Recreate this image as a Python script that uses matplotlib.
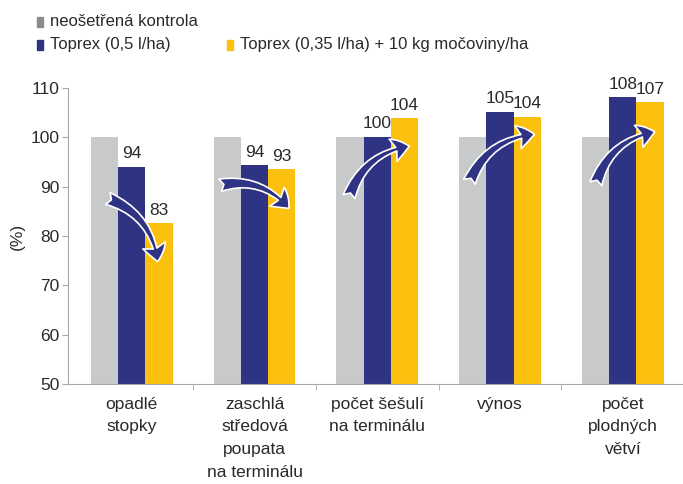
import matplotlib.pyplot as plt
import numpy as np
from matplotlib.patches import Rectangle, FancyArrowPatch

plt.rcParams['font.family'] = ['Liberation Sans', 'DejaVu Sans']

categories = ['opadlé\nstopky', 'zaschlá\nstředová\npoupata\nna terminálu',
              'počet šešulí\nna terminálu', 'výnos', 'počet\nplodných\nvětví']
series_names = ['neošetřená kontrola', 'Toprex (0,5 l/ha)',
                'Toprex (0,35 l/ha) + 10 kg močoviny/ha']
control = [100, 100, 100, 100, 100]
toprex = [94, 94.3, 100.1, 105.2, 108.1]
toprex_urea = [82.6, 93.5, 103.9, 104.2, 107.1]
toprex_labels = ['94', '94', '100', '105', '108']
urea_labels = ['83', '93', '104', '104', '107']

colors = ['#c8c9cb', '#2e3383', '#fcc10e']
text_color = '#2a2a2a'
spine_color = '#a8a8a8'

fig = plt.figure(figsize=(6.83, 4.84), dpi=100)
ax = fig.add_axes([0.0996, 0.2066, 0.9004, 0.6116])

x = np.arange(len(categories))
w = 0.222
ax.bar(x - w, control, w, color=colors[0])
ax.bar(x, toprex, w, color=colors[1])
ax.bar(x + w, toprex_urea, w, color=colors[2])

for i in range(len(categories)):
    ax.annotate(toprex_labels[i], (x[i], toprex[i]), xytext=(0, 4),
                textcoords='offset points', ha='center', va='bottom',
                fontsize=12.5, color=text_color)
    ax.annotate(urea_labels[i], (x[i] + w, toprex_urea[i]), xytext=(0, 4),
                textcoords='offset points', ha='center', va='bottom',
                fontsize=12.5, color=text_color)

# curved arrows (start, end) in data coords
arrows = [((-0.195, 87.6), (0.21, 74.8)),
          ((0.72, 90.3), (1.28, 85.6)),
          ((1.77, 88.0), (2.26, 98.2)),
          ((2.75, 91.0), (3.28, 100.6)),
          ((3.78, 90.6), (4.26, 101.1))]
for start, end in arrows:
    arr = FancyArrowPatch(start, end, connectionstyle='arc3,rad=-0.3',
                          arrowstyle='fancy,head_length=0.6,head_width=0.85,tail_width=0.45',
                          mutation_scale=20, facecolor=colors[1],
                          edgecolor='white', linewidth=1.2, zorder=5,
                          shrinkA=0, shrinkB=0)
    ax.add_patch(arr)

ax.set_xlim(-0.52, 4.49)
ax.set_ylim(50, 110)
ax.set_yticks(np.arange(50, 111, 10))
ax.set_xticks(x)
ax.set_xticklabels(categories, fontsize=12.5, color=text_color, linespacing=1.65,
                   va='top')
ax.set_xticks(x[:-1] + 0.5, minor=True)
ax.tick_params(axis='x', which='major', length=0, pad=9)
ax.tick_params(axis='x', which='minor', length=4, direction='out', color=spine_color)
ax.tick_params(axis='y', length=4, direction='out', color=spine_color,
               labelsize=12.5, labelcolor=text_color, pad=2)
for s in ['top', 'right']:
    ax.spines[s].set_visible(False)
for s in ['left', 'bottom']:
    ax.spines[s].set_color(spine_color)
ax.set_ylabel('(%)', fontsize=12.5, color=text_color)
ax.yaxis.set_label_coords(-0.07, 0.5)

# legend drawn by hand
fig.patches.append(Rectangle((37 / 683, 1 - 27 / 484), 6 / 683, 10 / 484,
                             transform=fig.transFigure, color='#8c8c8c'))
fig.text(50 / 683, 1 - 22 / 484, series_names[0], fontsize=12,
         color=text_color, va='center')
fig.patches.append(Rectangle((37 / 683, 1 - 50 / 484), 6 / 683, 10 / 484,
                             transform=fig.transFigure, color=colors[1]))
fig.text(50 / 683, 1 - 45 / 484, series_names[1], fontsize=12,
         color=text_color, va='center')
fig.patches.append(Rectangle((227 / 683, 1 - 50 / 484), 6 / 683, 10 / 484,
                             transform=fig.transFigure, color=colors[2]))
fig.text(240 / 683, 1 - 45 / 484, series_names[2], fontsize=12,
         color=text_color, va='center')

fig.savefig('out.png', dpi=100)
